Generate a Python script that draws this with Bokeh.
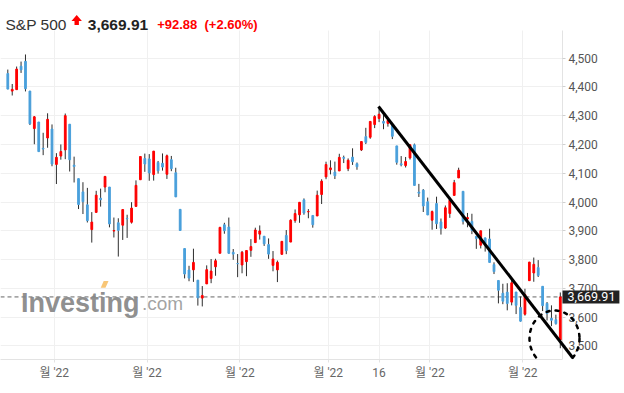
import numpy as np
from bokeh.plotting import figure
from bokeh.models import (ColumnDataSource, Range1d, FixedTicker, NumeralTickFormatter,
                          Label, PolyAnnotation)
from bokeh.core.properties import value
from bokeh.embed import file_html
from bokeh.resources import INLINE

# ---------------- data (S&P 500 daily candles) ----------------
dates = (
    ["2022-04-14", "2022-04-18", "2022-04-19", "2022-04-20", "2022-04-21", "2022-04-22",
     "2022-04-25", "2022-04-26", "2022-04-27", "2022-04-28", "2022-04-29"] +
    ["2022-05-%02d" % d for d in [2, 3, 4, 5, 6, 9, 10, 11, 12, 13, 16, 17, 18, 19, 20, 23, 24, 25, 26, 27, 31]] +
    ["2022-06-%02d" % d for d in [1, 2, 3, 6, 7, 8, 9, 10, 13, 14, 15, 16, 17, 21, 22, 23, 24, 27, 28, 29, 30]] +
    ["2022-07-%02d" % d for d in [1, 5, 6, 7, 8, 11, 12, 13, 14, 15, 18, 19, 20, 21, 22, 25, 26, 27, 28, 29]] +
    ["2022-08-%02d" % d for d in [1, 2, 3, 4, 5, 8, 9, 10, 11, 12, 15, 16, 17, 18, 19, 22, 23, 24, 25, 26, 29, 30, 31]] +
    ["2022-09-%02d" % d for d in [1, 2, 6, 7, 8, 9, 12, 13, 14, 15, 16, 19, 20, 21, 22, 23, 26, 27, 28, 29, 30]] +
    ["2022-10-%02d" % d for d in [3, 4, 5, 6, 7, 10, 11, 12, 13]]
)

opens = [
    4446.59, 4385.63, 4390.63, 4472.26, 4489.17, 4385.83, 4255.34, 4278.14, 4186.52, 4222.58, 4253.75,
    4130.61, 4159.78, 4181.18, 4270.43, 4128.17, 4081.27, 4035.18, 3990.08, 3903.95, 3963.90, 4013.02,
    4052.00, 4051.98, 3899.00, 3927.76, 3919.42, 3942.94, 3929.59, 3984.60, 4077.43, 4151.09,
    4149.78, 4095.41, 4137.57, 4134.72, 4096.47, 4147.12, 4101.65, 3974.39, 3838.15, 3763.52, 3764.05,
    3728.18, 3665.90, 3715.31, 3733.89, 3774.71, 3821.75, 3920.76, 3913.00, 3825.09, 3785.99,
    3781.00, 3792.61, 3831.98, 3858.85, 3888.26, 3880.94, 3851.95, 3779.67, 3763.99, 3818.00, 3883.79,
    3860.73, 3935.32, 3955.47, 4007.42, 3965.72, 3953.22, 3951.43, 4026.13, 4087.33,
    4112.38, 4104.21, 4107.96, 4154.85, 4115.87, 4155.93, 4133.11, 4181.02, 4227.40, 4225.02, 4269.37,
    4290.46, 4280.40, 4273.13, 4266.31, 4195.08, 4133.09, 4126.55, 4153.26, 4198.74, 4034.58, 4041.25, 4000.67,
    3936.73, 3994.66, 3930.89, 3909.43, 3959.94, 4022.94, 4083.67, 4037.12, 3940.73, 3932.41, 3880.95,
    3849.91, 3875.23, 3871.40, 3782.36, 3727.14, 3682.72, 3686.44, 3651.94, 3687.01, 3633.48,
    3609.78, 3726.46, 3753.25, 3771.97, 3706.74, 3647.51, 3595.86, 3590.83, 3520.37,
]
highs = [
    4460.46, 4410.31, 4471.03, 4488.29, 4512.94, 4385.83, 4299.02, 4278.14, 4240.71, 4308.45, 4269.68,
    4169.81, 4200.10, 4307.66, 4270.43, 4157.69, 4081.27, 4068.82, 4049.09, 3964.80, 4038.88, 4046.46,
    4090.72, 4051.98, 3945.96, 3943.42, 3975.15, 3955.68, 3999.33, 4075.14, 4158.49, 4168.34,
    4166.54, 4177.51, 4142.67, 4168.78, 4164.86, 4160.14, 4119.10, 3974.39, 3838.15, 3778.18, 3837.56,
    3728.18, 3707.71, 3779.65, 3801.79, 3802.58, 3913.65, 3927.72, 3945.86, 3836.50, 3818.99,
    3829.82, 3832.19, 3870.91, 3910.63, 3918.50, 3880.94, 3873.41, 3829.44, 3796.41, 3863.62, 3902.44,
    3939.81, 3974.13, 3999.29, 4012.44, 3975.30, 3953.22, 4039.56, 4078.95, 4140.15,
    4144.95, 4140.47, 4167.66, 4161.29, 4151.58, 4186.62, 4137.30, 4211.03, 4257.91, 4280.47, 4301.79,
    4325.28, 4302.18, 4292.53, 4266.31, 4195.08, 4159.77, 4156.56, 4200.54, 4203.04, 4062.99, 4044.98, 4015.37,
    3970.23, 4018.43, 3942.55, 3987.89, 4010.50, 4076.81, 4119.28, 4037.12, 3961.94, 3959.14, 3880.95,
    3900.45, 3876.01, 3907.07, 3790.28, 3727.14, 3715.67, 3717.53, 3736.74, 3687.01, 3671.44,
    3698.35, 3791.92, 3806.91, 3797.93, 3706.74, 3652.17, 3640.66, 3608.34, 3685.41,
]
lows = [
    4392.23, 4370.30, 4390.63, 4448.76, 4384.47, 4267.62, 4200.82, 4175.04, 4162.90, 4188.63, 4124.28,
    4062.51, 4147.08, 4148.91, 4106.01, 4067.91, 3975.48, 3958.17, 3928.82, 3858.87, 3963.90, 3983.99,
    4033.93, 3911.91, 3876.58, 3810.32, 3868.14, 3875.13, 3925.03, 3984.60, 4077.43, 4104.88,
    4073.85, 4074.37, 4098.67, 4109.18, 4080.19, 4107.20, 4017.17, 3900.16, 3734.30, 3724.47, 3722.30,
    3639.77, 3636.87, 3715.31, 3717.69, 3743.52, 3821.75, 3889.66, 3820.14, 3799.02, 3738.67,
    3752.10, 3742.06, 3809.37, 3858.85, 3869.34, 3847.22, 3802.36, 3759.07, 3721.56, 3817.18, 3818.63,
    3860.73, 3927.72, 3927.64, 3955.77, 3943.46, 3910.74, 3951.43, 3992.97, 4079.22,
    4096.02, 4079.81, 4107.96, 4135.42, 4107.31, 4128.97, 4112.09, 4177.26, 4201.41, 4219.78, 4256.90,
    4277.77, 4253.08, 4261.98, 4218.70, 4129.86, 4124.03, 4119.97, 4147.59, 4057.66, 4017.42, 3965.21, 3954.53,
    3903.65, 3906.21, 3886.75, 3906.03, 3944.81, 4022.94, 4083.67, 3921.91, 3912.17, 3888.28, 3837.08,
    3838.50, 3827.54, 3789.49, 3749.45, 3647.47, 3644.76, 3623.29, 3640.61, 3610.40, 3584.13,
    3604.93, 3726.46, 3722.66, 3739.22, 3620.73, 3588.10, 3568.45, 3573.86, 3491.58,
]
closes = [
    4392.59, 4391.69, 4462.21, 4459.45, 4393.66, 4271.78, 4296.12, 4175.20, 4183.96, 4287.50, 4131.93,
    4155.38, 4175.48, 4300.17, 4146.87, 4123.34, 3991.24, 4001.05, 3935.18, 3930.08, 4023.89, 4008.01,
    4088.85, 3923.68, 3900.79, 3901.36, 3973.75, 3941.48, 3978.73, 4057.84, 4158.24, 4132.15,
    4101.23, 4176.82, 4108.54, 4121.43, 4160.68, 4115.77, 4017.82, 3900.86, 3749.63, 3735.48, 3789.99,
    3666.77, 3674.84, 3764.79, 3759.89, 3795.73, 3911.74, 3900.11, 3821.55, 3818.83, 3785.38,
    3825.33, 3831.39, 3845.08, 3902.62, 3899.38, 3854.43, 3818.80, 3801.78, 3790.38, 3863.16, 3830.85,
    3936.69, 3959.90, 3998.95, 3961.63, 3966.84, 3921.05, 4023.61, 4072.43, 4130.29,
    4118.63, 4091.19, 4155.17, 4151.94, 4145.19, 4140.06, 4122.47, 4210.24, 4207.27, 4280.15, 4297.14,
    4305.20, 4274.04, 4283.74, 4228.48, 4137.99, 4128.73, 4140.77, 4199.12, 4057.66, 4030.61, 3986.16, 3955.00,
    3966.85, 3924.26, 3908.19, 3979.87, 4006.18, 4067.36, 4110.41, 3932.69, 3946.01, 3901.35, 3873.33,
    3899.89, 3855.93, 3789.93, 3757.99, 3693.23, 3655.04, 3647.29, 3719.04, 3640.47, 3585.62,
    3678.43, 3790.93, 3783.28, 3744.52, 3639.66, 3612.39, 3588.84, 3577.03, 3669.91,
]

x_tick_pos = [10.5, 31.5, 52.5, 72.5, 84, 95.5, 116.5]
x_tick_labels = ["월 '22", "월 '22", "월 '22", "월 '22", "16", "월 '22", "월 '22"]
y_ticks = [3500, 3600, 3700, 3800, 3900, 4000, 4100, 4200, 4300, 4400, 4500]

name = "S&P 500"
last_price = 3669.91
change = 92.88
change_pct = 2.60

UP = "#ff0000"
DOWN = "#4aa0dc"

# ---------------- layout helpers (page pixels -> data) ----------------
W, H = 624, 393
FRAME_W, FRAME_H = 624, 359          # frame covers full width; y axis sits inside at AXIS_PX
AXIS_PX = 562
PX_PER_DAY = 4.42
X_START = -7.3 / PX_PER_DAY
X_END = X_START + FRAME_W / PX_PER_DAY
PX_PER_PT = 0.2876
Y_TOP = 4500 + 57.7 / PX_PER_PT
Y_BOT = Y_TOP - FRAME_H / PX_PER_PT


def dx(px):
    return X_START + px * (X_END - X_START) / FRAME_W


def dy(py):
    return Y_TOP - py * (Y_TOP - Y_BOT) / FRAME_H


AXIS_X = dx(AXIS_PX)
PLOT_TOP = dy(30)

idx = list(range(len(dates)))
src = ColumnDataSource(dict(
    x=idx, date=dates, open=opens, high=highs, low=lows, close=closes,
    top=[max(o, c) for o, c in zip(opens, closes)],
    bottom=[min(o, c) for o, c in zip(opens, closes)],
    color=[UP if c > o else DOWN for o, c in zip(opens, closes)],
))

p = figure(width=W, height=H, output_backend="svg", toolbar_location=None,
           x_range=Range1d(X_START, X_END), y_range=Range1d(Y_BOT, Y_TOP),
           y_axis_location="right",
           min_border_left=0, min_border_top=0, min_border_right=0,
           min_border_bottom=H - FRAME_H)
p.outline_line_color = None
p.background_fill_color = "white"
p.border_fill_color = "white"

# axes
yax = p.yaxis[0]
yax.fixed_location = AXIS_X
yax.ticker = FixedTicker(ticks=y_ticks)
yax.formatter = NumeralTickFormatter(format="0,0")
yax.axis_line_color = "#e3e3e3"
yax.major_tick_line_color = "#d0d0d0"
yax.major_tick_in = 0
yax.major_tick_out = 3
yax.minor_tick_line_color = None
yax.major_label_text_font = "Roboto"
yax.major_label_text_font_size = "12px"
yax.major_label_text_color = "#555555"
yax.major_label_standoff = 3
yax.bounds = (Y_BOT, PLOT_TOP)

xax = p.xaxis[0]
xax.ticker = FixedTicker(ticks=x_tick_pos)
xax.major_label_overrides = dict(zip(x_tick_pos, x_tick_labels))
xax.axis_line_color = "#e3e3e3"
xax.major_tick_line_color = "#e3e3e3"
xax.major_tick_in = 0
xax.major_tick_out = 3
xax.minor_tick_line_color = None
xax.major_label_text_font = "Roboto, Noto Sans CJK KR"
xax.major_label_text_font_size = "12px"
xax.major_label_text_color = "#666666"
xax.major_label_standoff = 3
xax.bounds = (X_START, AXIS_X)

p.xgrid.grid_line_color = "#f0f0f0"
p.ygrid.grid_line_color = "#f0f0f0"
p.xgrid[0].cross_bounds = (Y_BOT, PLOT_TOP)
p.ygrid[0].cross_bounds = (X_START, AXIS_X)

# last price dashed line (up to the axis)
dash = p.segment(x0=[X_START], y0=[last_price], x1=[AXIS_X], y1=[last_price],
                 line_color="#666666", line_dash="4 3", line_width=1)
dash.level = "underlay"

# watermark
p.text(x=[dx(20.5)], y=[dy(302.7)], text=["Investing"], text_font=value("Liberation Sans"),
       text_font_style="bold", text_font_size=value("27px"), text_color="#858585",
       text_alpha=0.92, text_align="left", text_baseline="alphabetic")
p.text(x=[dx(141.5)], y=[dy(302.7)], text=[".com"], text_font=value("Liberation Sans"),
       text_font_size=value("19px"), text_color="#9a9a9a", text_alpha=0.92,
       text_align="left", text_baseline="alphabetic")
p.patch(x=[dx(100.2), dx(103.2), dx(108), dx(105)], y=[dy(287.2), dy(280.5), dy(280.5), dy(287.2)],
        fill_color="#f8c677", line_color=None)

# candles
p.segment(x0="x", y0="low", x1="x", y1="high", source=src, line_color="#2d2d2d", line_width=1)
p.vbar(x="x", width=0.4, top="top", bottom="bottom", source=src,
       fill_color="color", line_color="color", line_width=1)

# title row
TITLE_BASE = dy(24.3)
p.text(x=[dx(5)], y=[TITLE_BASE], text=[name], text_font=value("Liberation Sans"),
       text_font_size=value("15.5px"), text_color="#333333", text_align="left",
       text_baseline="alphabetic")
arrow_px = [(76.2, 14.6), (81.4, 20.6), (78.4, 20.6), (78.4, 24.4), (74.0, 24.4), (74.0, 20.6), (71.0, 20.6)]
p.patch(x=[dx(a) for a, b in arrow_px], y=[dy(b) for a, b in arrow_px], fill_color=UP, line_color=None)
p.text(x=[dx(87.3)], y=[TITLE_BASE], text=[f"{last_price:,.2f}"], text_font=value("Liberation Sans"),
       text_font_style="bold", text_font_size=value("15.5px"), text_color="#222222",
       text_align="left", text_baseline="alphabetic")
p.text(x=[dx(156.7)], y=[TITLE_BASE], text=[f"+{change:.2f}"], text_font=value("Liberation Sans"),
       text_font_style="bold", text_font_size=value("13px"), text_color=UP,
       text_align="left", text_baseline="alphabetic")
p.text(x=[dx(204)], y=[TITLE_BASE], text=[f"(+{change_pct:.2f}%)"], text_font=value("Liberation Sans"),
       text_font_style="bold", text_font_size=value("13px"), text_color=UP,
       text_align="left", text_baseline="alphabetic")

# trend line and dotted circle annotations
trend_px = [(378, 106), (572, 357)]
p.add_layout(PolyAnnotation(xs=[dx(a) for a, b in trend_px], ys=[dy(b) for a, b in trend_px],
                            xs_units="data", ys_units="data", fill_color=None, fill_alpha=0,
                            line_color="black", line_alpha=1.0, line_width=3, level="overlay"))
theta = np.linspace(0, 2 * np.pi, 97)
cx, cy, rx, ry = 554, 338, 25, 28
p.add_layout(PolyAnnotation(xs=[dx(cx + rx * np.cos(t)) for t in theta],
                            ys=[dy(cy + ry * np.sin(t)) for t in theta],
                            xs_units="data", ys_units="data", fill_color=None, fill_alpha=0,
                            line_color="black", line_alpha=1.0, line_width=2.5, line_dash="3 6",
                            line_cap="round", level="overlay"))

# last price box on the axis
lab = Label(x=AXIS_X, y=last_price, text=f"{last_price:,.2f}", text_color="white",
            text_font="Roboto", text_font_size="12.5px", text_align="left",
            text_baseline="middle", background_fill_color="#222222",
            background_fill_alpha=1.0)
try:
    lab.padding = dict(left=5, right=4, top=2, bottom=2)
except Exception:
    lab.padding = 3
p.add_layout(lab)

open("out.html", "w").write(file_html(p, INLINE))
